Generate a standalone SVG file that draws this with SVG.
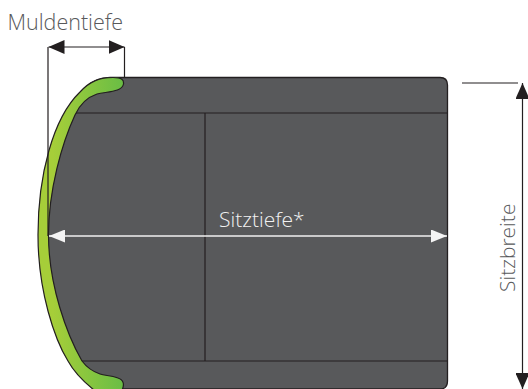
<svg xmlns="http://www.w3.org/2000/svg" width="528" height="389" viewBox="0 0 528 389">
<style>
text{font-family:"Open Sans","Liberation Sans",sans-serif;font-weight:300;font-size:21px;fill:#58595b}
.dk{stroke:#231f20;fill:none}
.wh{stroke:#f1f1f1;stroke-width:1.6;fill:none}
</style>
<defs>
<linearGradient id="g" gradientUnits="userSpaceOnUse" x1="40" y1="0" x2="124" y2="0"><stop offset="0.15" stop-color="#a6ce39"/><stop offset="1" stop-color="#69bd45"/></linearGradient>
<marker id="bk" markerUnits="userSpaceOnUse" viewBox="0 0 16 14" refX="16" refY="7" markerWidth="16" markerHeight="14" orient="auto-start-reverse"><path d="M0 0L16 7L0 14Z" fill="#231f20"/></marker>
<marker id="wt" markerUnits="userSpaceOnUse" viewBox="0 0 16 13" refX="16" refY="6.5" markerWidth="16" markerHeight="13" orient="auto-start-reverse"><path d="M0 0L16 6.5L0 13Z" fill="#f4f4f4"/></marker>
</defs>
<g id="seat">
<path d="M110 77.500H440Q447.500 77.500 447.500 85V381Q447.500 389 440 389H95L75 361C55 320 43 280 43 235C43 190 55 140 85 88Q95 77.500 110 77.500Z" fill="#58595b" stroke="#231f20" stroke-width="1.300"/>
<path class="dk" d="M76 113H447M205 113V361M82 361H447" stroke-width="1.200"/>
</g>
<g id="cushion">
<path d="M123.500 84C124 80 122 77.500 113 77.500C100 77.500 90 81 80 92C53 118 38 175 38 235C38 292 55 340 68 361C74 372 84 382 94 390H122C124.500 385 124 380 118 378C110 375 105 376 100 374C94 372 88 369 82 361C67 335 48.500 285 48.500 235C48.500 190 62 143 75 115C80 104 88 97 97 94C108 91.500 122 92 123.500 84Z" fill="url(#g)" stroke="#231f20" stroke-width="1.200"/>
</g>
<g id="connectors">
<path class="dk" d="M48 47V236M124.500 47V78" stroke-width="1.200"/>
<path class="dk" d="M48.500 47H124.500" stroke-width="1.200" marker-start="url(#bk)" marker-end="url(#bk)"/>
<path class="dk" d="M462 83H518" stroke-width="1.200"/>
<path class="dk" d="M522.500 83V389" stroke-width="1.200" marker-start="url(#bk)" marker-end="url(#bk)"/>
<path class="wh" d="M49 236H447" marker-start="url(#wt)" marker-end="url(#wt)"/>
</g>
<g id="labels">
<text x="7.500" y="30" style="font-size:21.500px">Muldentiefe</text>
<text x="219" y="226.500" style="fill:#f1f1f1">Sitztiefe*</text>
<text transform="translate(514.500 292) rotate(-90)">Sitzbreite</text>
</g>
</svg>
